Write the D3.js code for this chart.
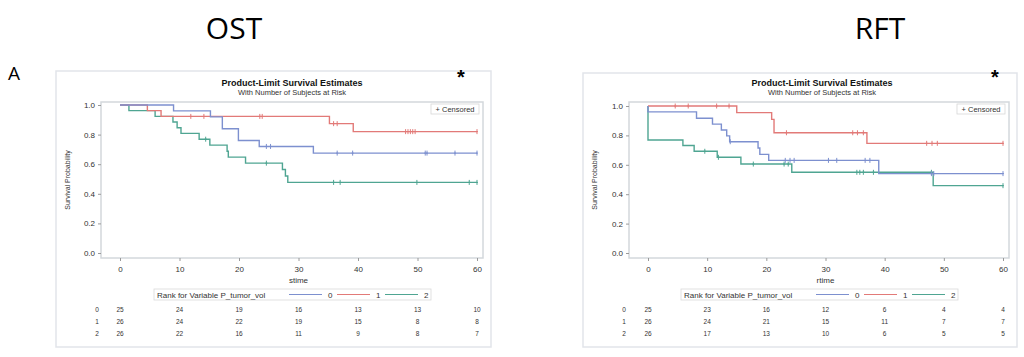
<!DOCTYPE html>
<html>
<head>
<meta charset="utf-8">
<script src="https://cdn.jsdelivr.net/npm/d3@7"></script>
<style>
  body { margin: 0; background: #fff; }
  svg { display: block; font-family: "Liberation Sans", Arial, sans-serif; }
  .frame { fill: none; stroke: #e2e5ea; stroke-width: 1.5; }
  .plotbox { fill: none; stroke: #d3d8dc; stroke-width: 1.5; }
  .axis path { display: none; }
  .axis line { stroke: #9a9a9a; }
  .axis text { fill: #333; font-size: 8px; }
  .km { fill: none; stroke-width: 1.4; }
</style>
</head>
<body>
<div id="chart"></div>
<script>
// ---- data ----
var timeTicks = [0, 10, 20, 30, 40, 50, 60];
var survTicks = [0, 0.2, 0.4, 0.6, 0.8, 1.0];
var groups = ["0", "1", "2"];
var groupColors = ["#7d90cf", "#e27a78", "#4fa592"];

// OST: step points [time, survival] and censor times
var ostStep0 = [[0, 1], [9.0, 0.96], [15.2, 0.92], [17.2, 0.84], [19.9, 0.76], [23.4, 0.72], [32.5, 0.675], [60, 0.675]];
var ostStep1 = [[0, 1], [4.6, 0.962], [6.9, 0.923], [35.2, 0.874], [39.2, 0.82], [60, 0.82]];
var ostStep2 = [[0, 1], [1.5, 0.962], [5.9, 0.923], [8.9, 0.885], [9.6, 0.846], [10.25, 0.808], [13.3, 0.769],
  [15.1, 0.729], [18.0, 0.688], [18.2, 0.648], [21.1, 0.607], [27.3, 0.564], [27.8, 0.52], [28.2, 0.477], [60, 0.477]];
var ostCens0 = [24.6, 25.3, 36.5, 39.1, 51.3, 51.6, 56.3, 60];
var ostCens1 = [11.9, 14.1, 23.5, 23.9, 35.9, 36.5, 48.0, 48.4, 48.8, 49.2, 49.6, 60];
var ostCens2 = [14.4, 24.6, 35.9, 37.0, 49.9, 58.7, 60];
var ostRisk0 = [25, 24, 19, 16, 13, 13, 10];
var ostRisk1 = [26, 24, 22, 19, 15, 8, 8];
var ostRisk2 = [26, 22, 16, 11, 9, 8, 7];

// RFT
var rftStep0 = [[0, 1], [0, 0.96], [8.2, 0.917], [10.9, 0.877], [12.4, 0.837], [13.3, 0.797], [13.8, 0.757],
  [18.6, 0.714], [18.9, 0.671], [20.4, 0.63], [39.0, 0.54], [60, 0.54]];
var rftStep1 = [[0, 1], [15.0, 0.955], [20.9, 0.909], [21.3, 0.818], [37.0, 0.746], [60, 0.746]];
var rftStep2 = [[0, 1], [0, 0.769], [5.9, 0.731], [7.8, 0.692], [11.7, 0.651], [15.7, 0.605], [24.3, 0.549],
  [48.2, 0.458], [60, 0.458]];
var rftCens0 = [13.9, 23.2, 24.0, 24.7, 30.5, 31.9, 36.7, 37.5, 47.9, 48.3, 60];
var rftCens1 = [4.6, 6.8, 11.6, 13.7, 23.4, 34.6, 35.4, 36.4, 47.1, 48.0, 48.9, 60];
var rftCens2 = [9.6, 11.9, 17.8, 23.0, 23.7, 35.3, 35.8, 36.4, 38.1, 47.9, 60];
var rftRisk0 = [25, 23, 16, 12, 6, 4, 4];
var rftRisk1 = [26, 24, 21, 15, 11, 7, 7];
var rftRisk2 = [26, 17, 13, 10, 6, 5, 5];

var W = 1024, H = 357;
var svg = d3.select("#chart").append("svg").attr("width", W).attr("height", H);

// survival value at time t from a step list
function survAt(steps, t) {
  var s = steps[0][1];
  steps.forEach(function (p) { if (p[0] <= t) s = p[1]; });
  return s;
}

function drawPanel(p) {
  var g = svg.append("g");
  var x = d3.scaleLinear().domain([0, 60]).range([p.x0, p.x1]);
  var y = d3.scaleLinear().domain([0, 1]).range([p.y0, p.y1]);

  g.append("rect").attr("class", "frame")
    .attr("x", p.fx).attr("y", p.fy).attr("width", p.fw).attr("height", p.fh);

  g.append("text").attr("x", p.cx).attr("y", 86).attr("text-anchor", "middle")
    .attr("font-size", 9).attr("font-weight", "bold").attr("fill", "#111")
    .text("Product-Limit Survival Estimates");
  g.append("text").attr("x", p.cx).attr("y", 95).attr("text-anchor", "middle")
    .attr("font-size", 7.5).attr("fill", "#333")
    .text("With Number of Subjects at Risk");

  g.append("rect").attr("class", "plotbox")
    .attr("x", p.px0).attr("y", 102).attr("width", p.px1 - p.px0).attr("height", 156);

  g.append("g").attr("class", "axis").attr("transform", "translate(0,258)")
    .call(d3.axisBottom(x).tickValues(timeTicks).tickSize(3).tickPadding(5).tickFormat(d3.format("d")));
  g.append("g").attr("class", "axis").attr("transform", "translate(" + p.px0 + ",0)")
    .call(d3.axisLeft(y).tickValues(survTicks).tickSize(3).tickPadding(3).tickFormat(d3.format(".1f")));

  g.append("text").attr("transform", "translate(" + p.ylx + ",180) rotate(-90)")
    .attr("text-anchor", "middle").attr("font-size", 7).attr("fill", "#333").text("Survival Probability");
  g.append("text").attr("x", (p.x0 + p.x1) / 2).attr("y", 283).attr("text-anchor", "middle")
    .attr("font-size", 8).attr("fill", "#333").text(p.xlabel);

  var line = d3.line().x(function (d) { return x(d[0]); }).y(function (d) { return y(d[1]); })
    .curve(d3.curveStepAfter);

  // draw green, red, blue order so blue sits on top like the original
  [2, 1, 0].forEach(function (i) {
    g.append("path").attr("class", "km").attr("stroke", groupColors[i]).attr("d", line(p.steps[i]));
    g.selectAll(null).data(p.cens[i]).enter().append("path")
      .attr("stroke", groupColors[i]).attr("stroke-width", 1)
      .attr("d", function (t) {
        var cx = x(t), cy = y(survAt(p.steps[i], t));
        return "M" + cx + "," + (cy - 2.5) + "V" + (cy + 2.5) + "M" + (cx - 1) + "," + cy + "H" + (cx + 1);
      });
  });

  // censored legend
  g.append("rect").attr("x", p.px1 - 52).attr("y", 104).attr("width", 48).attr("height", 10)
    .attr("fill", "#fff").attr("stroke", "#d6d6d6").attr("stroke-width", 0.8);
  g.append("text").attr("x", p.px1 - 28).attr("y", 112).attr("text-anchor", "middle")
    .attr("font-size", 7.5).attr("fill", "#333").text("+ Censored");

  // group legend
  var lg = g.append("g").attr("transform", "translate(" + p.lx + ",289)");
  lg.append("rect").attr("width", 277).attr("height", 11).attr("fill", "#fff")
    .attr("stroke", "#dadada").attr("stroke-width", 0.8);
  lg.append("text").attr("x", 3).attr("y", 8.5).attr("font-size", 8).attr("fill", "#333")
    .text("Rank for Variable P_tumor_vol");
  groups.forEach(function (k, i) {
    var ox = 135 + i * 48;
    lg.append("line").attr("x1", ox).attr("x2", ox + 33).attr("y1", 5.5).attr("y2", 5.5)
      .attr("stroke", groupColors[i]).attr("stroke-width", 1.2);
    lg.append("text").attr("x", ox + 39).attr("y", 8.5).attr("font-size", 8).attr("fill", "#333").text(k);
  });

  // number at risk
  p.risk.forEach(function (row, i) {
    var ry = 312 + i * 12;
    g.append("text").attr("x", p.rlx).attr("y", ry).attr("text-anchor", "middle")
      .attr("font-size", 6.5).attr("fill", "#333").text(groups[i]);
    g.selectAll(null).data(row).enter().append("text")
      .attr("x", function (d, j) { return x(timeTicks[j]); }).attr("y", ry)
      .attr("text-anchor", "middle").attr("font-size", 6.5).attr("fill", "#333")
      .text(function (d) { return d; });
  });

  svg.append("text").attr("x", p.starx).attr("y", 84).attr("text-anchor", "middle")
    .attr("font-size", 20).attr("font-weight", "bold").attr("fill", "#000").text("*");
}

drawPanel({
  fx: 56, fy: 71, fw: 435, fh: 276, cx: 292,
  x0: 120, x1: 477, y0: 253, y1: 105, px0: 101, px1: 483,
  ylx: 70, xlabel: "stime", lx: 154, rlx: 97, starx: 461,
  steps: [ostStep0, ostStep1, ostStep2], cens: [ostCens0, ostCens1, ostCens2],
  risk: [ostRisk0, ostRisk1, ostRisk2]
});
drawPanel({
  fx: 583, fy: 73, fw: 434, fh: 274, cx: 822,
  x0: 648, x1: 1003, y0: 253, y1: 106, px0: 629, px1: 1009,
  ylx: 597, xlabel: "rtime", lx: 681, rlx: 624, starx: 995,
  steps: [rftStep0, rftStep1, rftStep2], cens: [rftCens0, rftCens1, rftCens2],
  risk: [rftRisk0, rftRisk1, rftRisk2]
});

svg.append("text").attr("x", 234).attr("y", 39).attr("text-anchor", "middle")
  .attr("font-size", 30).attr("font-family", "'Open Sans', sans-serif").attr("fill", "#000").text("OST");
svg.append("text").attr("x", 880).attr("y", 39).attr("text-anchor", "middle")
  .attr("font-size", 30).attr("font-family", "'Open Sans', sans-serif").attr("fill", "#000").text("RFT");
svg.append("text").attr("x", 8).attr("y", 80).attr("font-size", 19)
  .attr("font-family", "'Open Sans', sans-serif").attr("fill", "#000").text("A");
</script>
</body>
</html>
